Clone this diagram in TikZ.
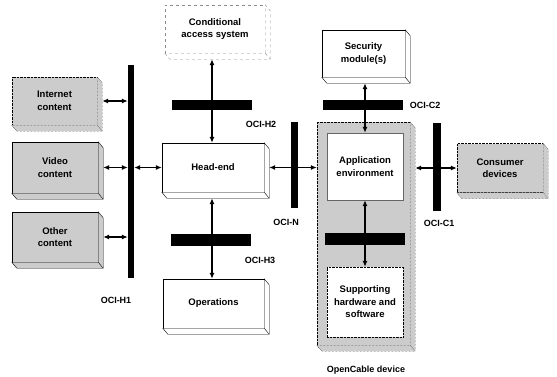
\documentclass[tikz,border=0pt]{standalone}
\usepackage{fontspec}
\setmainfont{Liberation Sans}
\usetikzlibrary{arrows.meta,calc}
\tikzset{
  slab/.style={draw,thin,fill=white,align=center,inner sep=1pt,
    font=\bfseries\fontsize{9.5}{12.5}\selectfont},
  greyslab/.style={slab,fill=black!20},
  ifbar/.style={fill=black,inner sep=0pt},
  ifname/.style={font=\bfseries\fontsize{9}{10}\selectfont},
  link/.style={{Latex[length=6pt,width=5pt]}-{Latex[length=6pt,width=5pt]},line width=1.1pt}
}
% side and bottom faces of a box node
\newcommand\sidefaces[2]{%
  \draw[#2] (#1.south west) -- ++(5,6) -| ($(#1.north east)+(5,6)$) -- (#1.north east) -- (#1.south east) -- cycle;
  \draw[#2] (#1.south east) -- ++(5,6);}

\begin{document}
\begin{tikzpicture}[x=1pt,y=-1pt]
\useasboundingbox (0,0) rectangle (557,376);
% content on the left
\node[greyslab,densely dotted,minimum width=85pt,minimum height=48pt] (ie) at (54.5,101) {Internet\\content};
\sidefaces{ie}{densely dotted,fill=black!20}
\node[greyslab,minimum width=86pt,minimum height=51pt] (vc) at (55,167.5) {Video\\content};
\sidefaces{vc}{thin,fill=black!20}
\node[greyslab,minimum width=86pt,minimum height=50pt] (oc) at (55,237) {Other\\content};
\sidefaces{oc}{thin,fill=black!20}
\node[ifbar,minimum width=6pt,minimum height=213pt] (h1) at (131,171.5) {};
\node[ifname] (h1name) at (116,300) {OCI-H1};
% head-end column
\node[slab,dashed,draw=black!45,minimum width=100pt,minimum height=48pt] (cas) at (215,29) {Conditional\\access system};
\sidefaces{cas}{dashed,draw=black!45,fill=white}
\node[ifbar,minimum width=80pt,minimum height=10pt] (h2) at (212,105) {};
\node[ifname] (h2name) at (261,124) {OCI-H2};
\node[slab,minimum width=102pt,minimum height=49pt] (hd) at (213,167.5) {Head-end};
\sidefaces{hd}{thin,fill=white}
\node[ifbar,minimum width=80pt,minimum height=12pt] (h3) at (211,240) {};
\node[ifname] (h3name) at (260,260) {OCI-H3};
\node[slab,minimum width=101pt,minimum height=49pt] (ops) at (213.5,303.5) {Operations};
\sidefaces{ops}{thin,fill=white}
\node[ifbar,minimum width=7pt,minimum height=86pt] (n) at (294.5,165) {};
\node[ifname] (nname) at (286,222) {OCI-N};
% OpenCable device
\node[greyslab,densely dotted,minimum width=93pt,minimum height=223pt] (dev) at (363.5,233.5) {};
\sidefaces{dev}{densely dotted,fill=black!20}
\node[ifname] (devname) at (366,370) {OpenCable device};
\node[slab,draw=black!60,minimum width=76pt,minimum height=67pt] (app) at (365,166.5) {Application\\environment};
\node[ifbar,minimum width=80pt,minimum height=12pt] (db) at (365,239) {};
\node[slab,densely dotted,minimum width=76pt,minimum height=70pt] (sup) at (365,302) {Supporting\\hardware and\\software};
\node[slab,minimum width=83pt,minimum height=47pt] (sec) at (363.5,53.5) {Security\\module(s)};
\sidefaces{sec}{thin,fill=white}
\node[ifbar,minimum width=80pt,minimum height=10pt] (c2) at (363,105) {};
\node[ifname] (c2name) at (425,105) {OCI-C2};
\node[ifbar,minimum width=8pt,minimum height=88pt] (c1) at (437,167) {};
\node[ifname] (c1name) at (439,223) {OCI-C1};
\node[greyslab,densely dotted,minimum width=86pt,minimum height=49pt] (cd) at (500,168) {Consumer\\devices};
\sidefaces{cd}{densely dotted,fill=black!20}
% links
\draw[link] ($(ie.east)+(5,0)$) -- (ie -| h1.west);
\draw[link] ($(vc.east)+(5,0)$) -- (vc -| h1.west);
\draw[link] ($(oc.east)+(5,0)$) -- (oc -| h1.west);
\draw[link] (h1.east |- hd) -- (hd.west);
\draw[link] ($(cas.south -| h2)+(0,6)$) -- (hd.north -| h2);
\draw[link] ($(hd.south -| h2)+(0,6)$) -- (ops.north -| h2);
\draw[link] ($(hd.east)+(5,0)$) -- (dev.west |- hd);
\draw[link] ($(sec.south -| app)+(0,6)$) -- (app.north);
\draw[link] (app.south) -- (sup.north);
\draw[link] ($(dev.east |- cd)+(5,0)$) -- (cd.west);
\end{tikzpicture}
\end{document}
